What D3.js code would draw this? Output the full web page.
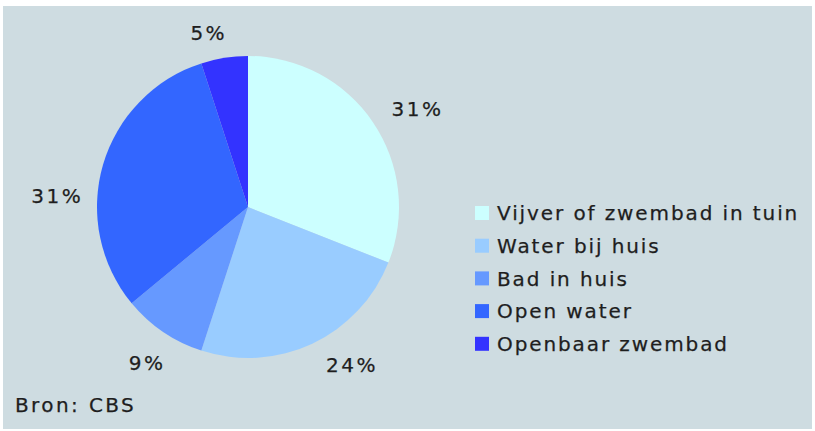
<!DOCTYPE html>
<html>
<head>
<meta charset="utf-8">
<script src="https://cdn.jsdelivr.net/npm/d3@7"></script>
<style>
    body { margin: 0; background: #fff; }
    text {
        font-family: "DejaVu Sans", Verdana, sans-serif;
        fill: #1e1e1e;
        stroke: #1e1e1e;
        stroke-width: 0.25px;
    }
</style>
</head>
<body>
<svg id="chart" width="815" height="431"></svg>
<script>
    // data
    const categories = [
        "Vijver of zwembad in tuin",
        "Water bij huis",
        "Bad in huis",
        "Open water",
        "Openbaar zwembad",
    ];
    const shares = [31, 24, 9, 31, 5];
    const colors = ["#ccffff", "#99ccff", "#6699ff", "#3366ff", "#3333ff"];

    const svg = d3.select("#chart");

    svg.append("rect")
        .attr("x", 3)
        .attr("y", 6)
        .attr("width", 809)
        .attr("height", 423)
        .attr("fill", "#cedce1");

    const cx = 248, cy = 207, radius = 151;
    const g = svg.append("g").attr("transform", `translate(${cx},${cy})`);

    const pie = d3.pie().sort(null).value((d) => d);
    const arcs = pie(shares);
    const arc = d3.arc().innerRadius(0).outerRadius(radius);

    g.selectAll("path.slice")
        .data(arcs)
        .enter()
        .append("path")
        .attr("class", "slice")
        .attr("d", arc)
        .attr("fill", (d, i) => colors[i]);

    // label placement: outside the pie, with small nudges (angle in degrees,
    // radius in px) to follow where the original chart engine put them
    const labelNudge = [4, -8, -1, -13, -4];
    const labelRNudge = [5, -2, -4, 2, -11];
    const labelR = 190;
    const midAngle = (d, i) =>
        (d.startAngle + d.endAngle) / 2 + (labelNudge[i] * Math.PI) / 180;

    g.selectAll("text.pct")
        .data(arcs)
        .enter()
        .append("text")
        .attr("class", "pct")
        .attr("x", (d, i) => (labelR + labelRNudge[i]) * Math.sin(midAngle(d, i)) + 1)
        .attr("y", (d, i) => -(labelR + labelRNudge[i]) * Math.cos(midAngle(d, i)))
        .attr("dy", "0.36em")
        .attr("text-anchor", "middle")
        .style("font-size", "20px")
        .style("letter-spacing", "2.5px")
        .text((d) => d.data + "%");

    // legend
    const legend = svg.append("g").attr("transform", "translate(475,213)");
    const row = legend.selectAll("g")
        .data(categories)
        .enter()
        .append("g")
        .attr("transform", (d, i) => `translate(0,${i * 32.7})`);

    row.append("rect")
        .attr("x", 0)
        .attr("y", -7)
        .attr("width", 14)
        .attr("height", 14)
        .attr("fill", (d, i) => colors[i])
        .style("stroke", "none");

    row.append("text")
        .attr("x", 22)
        .attr("dy", "0.36em")
        .style("font-size", "20px")
        .style("letter-spacing", "1.9px")
        .text((d) => d);

    svg.append("text")
        .attr("x", 15)
        .attr("y", 405)
        .attr("dy", "0.36em")
        .style("font-size", "20px")
        .style("letter-spacing", "2.4px")
        .text("Bron: CBS");
</script>
</body>
</html>
